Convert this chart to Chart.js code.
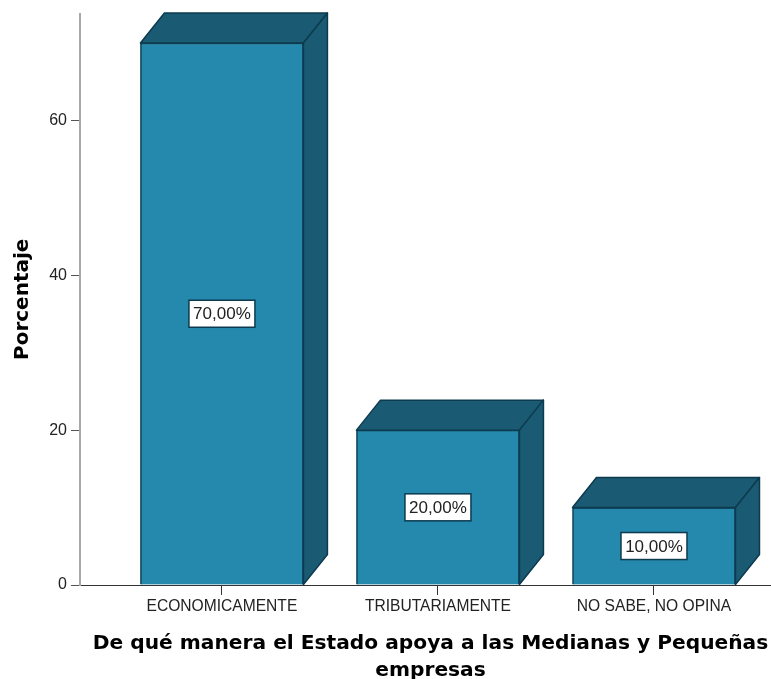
<!DOCTYPE html>
<html>
<head>
<meta charset="utf-8">
<style>
  html, body { margin: 0; padding: 0; background: #fff; overflow: hidden; }
  #wrap { width: 781px; height: 679px; }
</style>
<script src="https://cdn.jsdelivr.net/npm/chart.js@4"></script>
</head>
<body>
<div id="wrap"><canvas id="grafico"></canvas></div>
<script>
const categorias = ["ECONOMICAMENTE", "TRIBUTARIAMENTE", "NO SABE, NO OPINA"];
const porcentajes = [70, 20, 10];
const etiquetas = ["70,00%", "20,00%", "10,00%"];
const ticksY = [0, 20, 40, 60];

// caras laterales y superior de cada barra, a partir de la barra que calcula Chart.js
const caja3d = {
  id: "caja3d",
  afterDatasetsDraw(chart) {
    const ctx = chart.ctx;
    const dx = 24, dy = 30;
    ctx.save();
    ctx.strokeStyle = "#0c3a4f";
    ctx.lineWidth = 1.5;
    ctx.lineJoin = "round";
    chart.getDatasetMeta(0).data.forEach(bar => {
      const izq = bar.x - bar.width / 2;
      const der = bar.x + bar.width / 2;
      ctx.fillStyle = "#1a5a72";
      ctx.beginPath();
      ctx.moveTo(izq, bar.y);
      ctx.lineTo(izq + dx, bar.y - dy);
      ctx.lineTo(der + dx, bar.y - dy);
      ctx.lineTo(der, bar.y);
      ctx.closePath();
      ctx.fill();
      ctx.stroke();
      ctx.beginPath();
      ctx.moveTo(der, bar.y);
      ctx.lineTo(der + dx, bar.y - dy);
      ctx.lineTo(der + dx, bar.base - dy);
      ctx.lineTo(der, bar.base);
      ctx.closePath();
      ctx.fill();
      ctx.stroke();
    });
    ctx.restore();
  }
};

// etiqueta blanca con borde en el centro de cada barra
const etiquetasBarra = {
  id: "etiquetasBarra",
  afterDatasetsDraw(chart) {
    const ctx = chart.ctx;
    ctx.save();
    ctx.font = "17px 'Liberation Sans'";
    ctx.textAlign = "center";
    ctx.textBaseline = "middle";
    chart.getDatasetMeta(0).data.forEach((bar, i) => {
      const cy = (bar.y + bar.base) / 2;
      ctx.fillStyle = "#fff";
      ctx.strokeStyle = "#0c3a4f";
      ctx.lineWidth = 1.5;
      ctx.fillRect(bar.x - 33, cy - 13.5, 66, 27);
      ctx.strokeRect(bar.x - 33, cy - 13.5, 66, 27);
      ctx.fillStyle = "#222";
      ctx.fillText(etiquetas[i], bar.x, cy + 1);
    });
    ctx.restore();
  }
};

new Chart(document.getElementById("grafico"), {
  type: "bar",
  data: {
    labels: categorias,
    datasets: [{
      data: porcentajes.map((v, i) => ({ x: i, y: v })),
      backgroundColor: "#2588ad",
      borderColor: "#0c3a4f",
      borderWidth: 1.5,
      barThickness: 163
    }]
  },
  plugins: [caja3d, etiquetasBarra],
  options: {
    responsive: true,
    maintainAspectRatio: false,
    animation: false,
    layout: { padding: { top: 13 } },
    plugins: { legend: { display: false }, tooltip: { enabled: false } },
    scales: {
      x: {
        type: "linear",
        offset: false,
        min: -0.657,
        max: 2.588,
        afterBuildTicks(scale) {
          scale.ticks = categorias.map((_, i) => ({ value: i }));
        },
        afterFit(scale) { scale.height = 94; },
        grid: { offset: false, drawOnChartArea: false, color: "#333", tickLength: 10 },
        border: { color: "#333", width: 1 },
        ticks: {
          autoSkip: false,
          maxRotation: 0,
          padding: 2,
          color: "#222",
          font: { family: "'Liberation Sans'", size: 15.6 },
          callback: v => categorias[v]
        },
        title: {
          display: true,
          text: ["De qué manera el Estado apoya a las Medianas y Pequeñas", "empresas"],
          color: "#000",
          font: { family: "'DejaVu Sans'", weight: "bold", size: 20.2, lineHeight: 1.33 },
          padding: { top: 6, bottom: -5 }
        }
      },
      y: {
        min: 0,
        max: 73.8,
        afterBuildTicks(scale) {
          scale.ticks = ticksY.map(v => ({ value: v }));
        },
        afterFit(scale) { scale.width = 80; },
        grid: { drawOnChartArea: false, color: "#555", tickLength: 9 },
        border: { color: "#a8a8a8", width: 2 },
        ticks: {
          padding: 4,
          color: "#222",
          font: { family: "'Liberation Sans'", size: 16 }
        },
        title: {
          display: true,
          text: "Porcentaje",
          color: "#000",
          font: { family: "'DejaVu Sans'", weight: "bold", size: 20 },
          padding: { top: 11, bottom: 0 }
        }
      }
    }
  }
});
</script>
</body>
</html>
